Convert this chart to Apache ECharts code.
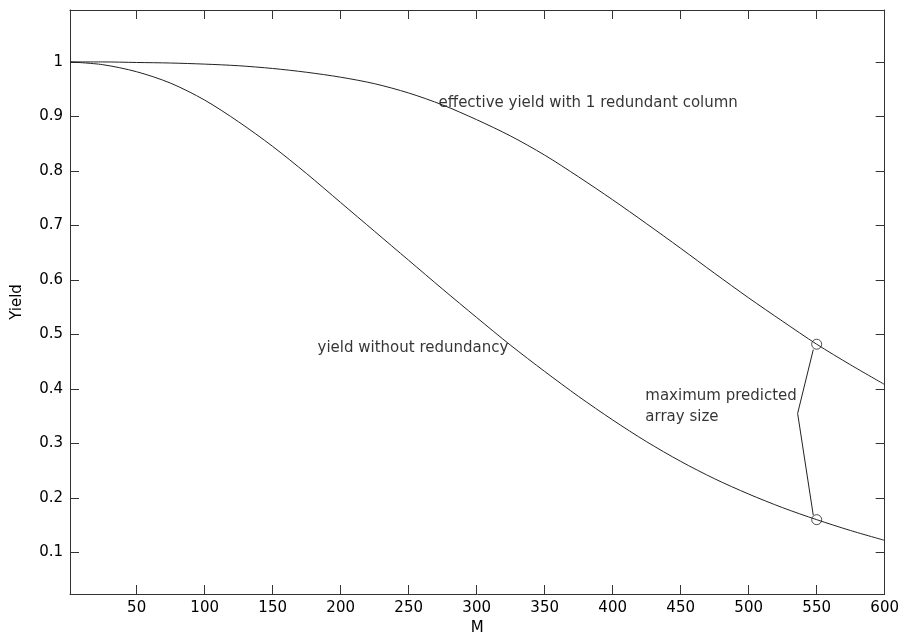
<!DOCTYPE html>
<html>
<head>
<meta charset="utf-8">
<script src="https://cdn.jsdelivr.net/npm/echarts@6/dist/echarts.min.js"></script>
<style>
  html, body { margin: 0; padding: 0; background: #fff; }
  #chart { width: 902px; height: 641px; }
</style>
</head>
<body>
<div id="chart"></div>
<script>
// array size M
var mValues = [1, 25, 50, 75, 100, 125, 150, 175, 200, 225, 250, 275, 300,
  325, 350, 375, 400, 425, 450, 475, 500, 525, 550, 575, 600];
// yield without redundancy
var yieldPlain = [1.0, 0.995, 0.982, 0.961, 0.930, 0.890, 0.845, 0.795, 0.742, 0.689,
  0.636, 0.583, 0.531, 0.480, 0.432, 0.386, 0.343, 0.303, 0.267, 0.235,
  0.207, 0.182, 0.160, 0.140, 0.122];
// effective yield with 1 redundant column
var yieldRedundant = [1.0, 1.0, 0.999, 0.998, 0.996, 0.993, 0.988, 0.981, 0.972, 0.960,
  0.943, 0.921, 0.894, 0.864, 0.829, 0.789, 0.747, 0.703, 0.658, 0.612,
  0.567, 0.524, 0.482, 0.444, 0.408];
// max predicted array size points
var maxPoints = [[550, 0.482], [550, 0.160]];
var pointerLine = [[547.5, 0.472], [536, 0.355], [547.5, 0.168]];
var notes = [
  [272, 0.925, "effective yield with 1 redundant column"],
  [183, 0.4755, "yield without redundancy"],
  [424, 0.368, "maximum predicted\narray size"]
];
var xTicks = [50, 100, 150, 200, 250, 300, 350, 400, 450, 500, 550, 600];
var yTicks = [0.1, 0.2, 0.3, 0.4, 0.5, 0.6, 0.7, 0.8, 0.9, 1];

function pairs(xs, ys) {
  var out = [];
  for (var i = 0; i < xs.length; i++) {
    out.push([xs[i], ys[i]]);
  }
  return out;
}

var font = "'DejaVu Sans', 'Liberation Sans', sans-serif";
var ink = "#000";
var axisCol = "#333";

var myChart = echarts.init(document.getElementById("chart"));
myChart.setOption({
  animation: false,
  backgroundColor: "#fff",
  grid: { left: 70, right: 17, top: 10, bottom: 46 },
  xAxis: [
    {
      type: "value",
      min: 1,
      max: 600,
      name: "M",
      nameLocation: "middle",
      nameGap: 27,
      nameTextStyle: { color: ink, fontFamily: font, fontSize: 15 },
      axisLine: { onZero: false, lineStyle: { color: axisCol, width: 1 } },
      axisTick: { inside: true, length: 9, customValues: xTicks, lineStyle: { color: axisCol } },
      axisLabel: { customValues: xTicks, color: ink, fontFamily: font, fontSize: 15, margin: 7 },
      splitLine: { show: false }
    },
    {
      type: "value",
      position: "top",
      min: 1,
      max: 600,
      axisLine: { onZero: false, lineStyle: { color: axisCol, width: 1 } },
      axisTick: { inside: true, length: 9, customValues: xTicks, lineStyle: { color: axisCol } },
      axisLabel: { show: false },
      splitLine: { show: false }
    }
  ],
  yAxis: [
    {
      type: "value",
      min: 0.0236,
      max: 1.0953,
      name: "Yield",
      nameLocation: "middle",
      nameGap: 45,
      nameTextStyle: { color: ink, fontFamily: font, fontSize: 15 },
      axisLine: { onZero: false, lineStyle: { color: axisCol, width: 1 } },
      axisTick: { inside: true, length: 9, customValues: yTicks, lineStyle: { color: axisCol } },
      axisLabel: { customValues: yTicks, color: ink, fontFamily: font, fontSize: 15, margin: 7 },
      splitLine: { show: false }
    },
    {
      type: "value",
      position: "right",
      min: 0.0236,
      max: 1.0953,
      axisLine: { show: true, onZero: false, lineStyle: { color: axisCol, width: 1 } },
      axisTick: { show: true, inside: true, length: 9, customValues: yTicks, lineStyle: { color: axisCol } },
      axisLabel: { show: false },
      splitLine: { show: false }
    }
  ],
  series: [
    {
      name: "yield without redundancy",
      type: "line",
      data: pairs(mValues, yieldPlain),
      smooth: 0.3,
      symbol: "none",
      lineStyle: { color: "#222", width: 1 }
    },
    {
      name: "effective yield",
      type: "line",
      data: pairs(mValues, yieldRedundant),
      smooth: 0.3,
      symbol: "none",
      lineStyle: { color: "#222", width: 1 }
    },
    {
      name: "pointer",
      type: "line",
      data: pointerLine,
      symbol: "none",
      lineStyle: { color: "#222", width: 1 }
    },
    {
      name: "max size",
      type: "scatter",
      data: maxPoints,
      symbol: "circle",
      symbolSize: 10,
      z: 5,
      itemStyle: { color: "rgba(255,255,255,0)", borderColor: "#222", borderWidth: 1 }
    },
    {
      name: "notes",
      type: "scatter",
      data: notes,
      symbolSize: 0,
      label: {
        show: true,
        position: "right",
        distance: 0,
        formatter: function (p) { return p.value[2]; },
        color: ink,
        fontFamily: font,
        fontSize: 15,
        lineHeight: 21
      }
    }
  ]
});
</script>
</body>
</html>
